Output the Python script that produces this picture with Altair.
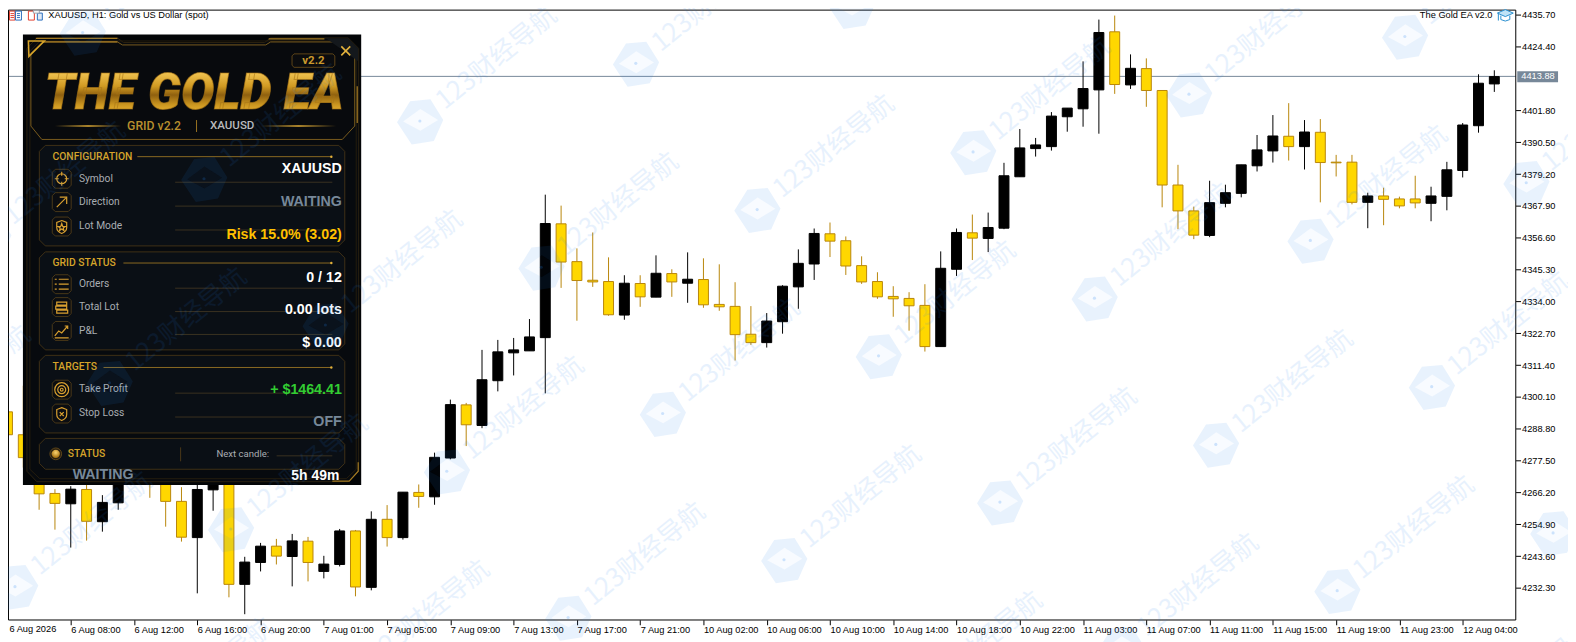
import altair as alt
import pandas as pd
import json

opens = [4294.82,4286.70,4278.68,4265.86,4262.19,4267.27,4255.83,4262.54,4274.44,4279.74,4270.91,4263.04,4250.19,4267.13,4274.44,4233.59,4241.36,4247.15,4243.48,4248.91,4238.18,4240.65,4252.55,4232.53,4256.68,4250.19,4266.22,4264.66,4278.43,4297.29,4289.98,4305.87,4315.76,4316.46,4321.16,4361.55,4348.13,4341.53,4341.07,4329.17,4340.37,4335.53,4343.90,4340.47,4341.78,4332.95,4332.25,4322.36,4319.39,4326.81,4339.17,4347.29,4358.02,4355.55,4346.72,4341.07,4335.78,4335.07,4332.60,4317.98,4345.42,4358.37,4356.36,4360.00,4378.25,4388.25,4388.95,4399.55,4402.37,4409.08,4429.70,4410.85,4416.64,4408.87,4375.32,4366.14,4357.42,4368.83,4372.36,4382.14,4387.43,4392.63,4388.95,4394.04,4383.44,4383.44,4369.18,4371.44,4370.38,4370.38,4368.83,4371.30,4380.48,4396.37,4411.20]
highs = [4299.16,4304.10,4281.50,4267.38,4268.44,4270.21,4265.26,4277.27,4282.21,4283.27,4274.44,4268.09,4272.68,4277.97,4277.27,4243.37,4248.31,4249.73,4251.49,4250.43,4243.72,4253.26,4252.90,4259.51,4261.73,4266.32,4269.04,4280.34,4299.16,4297.99,4316.81,4320.35,4321.05,4327.76,4371.90,4368.01,4352.83,4358.48,4349.65,4343.30,4343.30,4350.36,4345.42,4351.42,4349.30,4347.18,4340.83,4332.35,4329.88,4339.77,4352.48,4359.89,4362.01,4357.07,4350.01,4344.36,4339.41,4337.29,4340.12,4351.77,4359.89,4364.84,4365.54,4383.20,4395.20,4392.03,4401.21,4402.62,4419.21,4434.04,4435.46,4421.69,4420.27,4408.87,4382.49,4367.66,4376.84,4375.43,4382.49,4393.08,4400.15,4404.38,4398.38,4398.73,4386.02,4386.02,4372.60,4374.37,4371.19,4378.61,4374.72,4383.55,4397.32,4414.62,4416.04]
lows = [4285.04,4275.04,4260.07,4253.01,4246.65,4249.13,4252.30,4260.07,4272.32,4264.31,4254.07,4248.77,4230.41,4259.72,4229.00,4223.00,4238.18,4240.65,4232.88,4234.65,4235.71,4239.95,4229.35,4231.47,4247.01,4249.48,4260.78,4261.84,4277.97,4282.67,4289.03,4302.09,4307.74,4316.46,4301.39,4338.81,4327.16,4339.17,4328.93,4327.51,4332.10,4335.53,4335.64,4333.52,4331.75,4330.69,4313.04,4318.58,4317.63,4322.57,4331.40,4341.64,4349.76,4343.40,4340.23,4334.93,4328.57,4323.63,4316.22,4317.98,4343.05,4348.70,4351.52,4359.65,4378.25,4385.42,4387.54,4394.25,4396.02,4393.54,4407.67,4409.43,4403.08,4367.41,4359.65,4356.12,4356.82,4367.41,4370.95,4380.13,4383.30,4384.01,4380.83,4369.18,4378.36,4368.47,4360.00,4361.06,4367.06,4367.06,4362.47,4366.35,4378.01,4393.90,4408.37]
closes = [4286.70,4278.57,4265.72,4262.33,4267.38,4255.98,4262.68,4274.44,4279.74,4270.91,4263.04,4250.33,4267.27,4274.44,4233.59,4241.50,4247.15,4243.62,4249.02,4241.36,4240.79,4252.55,4232.67,4256.68,4250.19,4266.32,4264.80,4278.68,4297.39,4290.23,4306.22,4316.11,4316.81,4321.41,4361.66,4347.99,4341.43,4340.93,4329.28,4340.47,4335.64,4344.00,4340.93,4341.89,4332.81,4332.10,4322.22,4319.39,4327.05,4339.41,4347.53,4358.13,4355.41,4346.58,4340.93,4335.64,4334.93,4332.46,4317.98,4345.77,4358.48,4356.47,4360.25,4378.61,4388.49,4389.55,4399.79,4402.62,4409.57,4429.45,4410.99,4416.74,4408.87,4375.32,4366.14,4357.53,4369.07,4372.60,4382.49,4387.79,4392.73,4388.95,4394.14,4383.30,4383.20,4369.18,4371.44,4370.24,4367.91,4368.97,4371.44,4380.73,4396.62,4411.45,4413.81]
price_ticks = [4435.70,4424.40,4401.80,4390.50,4379.20,4367.90,4356.60,4345.30,4334.00,4322.70,4311.40,4300.10,4288.80,4277.50,4266.20,4254.90,4243.60,4232.30]
time_labels = ["6 Aug 2026","6 Aug 08:00","6 Aug 12:00","6 Aug 16:00","6 Aug 20:00","7 Aug 01:00","7 Aug 05:00","7 Aug 09:00","7 Aug 13:00","7 Aug 17:00","7 Aug 21:00","10 Aug 02:00","10 Aug 06:00","10 Aug 10:00","10 Aug 14:00","10 Aug 18:00","10 Aug 22:00","11 Aug 03:00","11 Aug 07:00","11 Aug 11:00","11 Aug 15:00","11 Aug 19:00","11 Aug 23:00","12 Aug 04:00"]
current_price = 4413.88

W, H = 1576, 642
AXF = "Liberation Sans"
AXS = 9.3
GOLD = "#d6a42a"
UIF = "Roboto"
BOLD = "Liberation Sans"

df = pd.DataFrame({"i": range(len(opens)), "open": opens, "high": highs, "low": lows, "close": closes})
df["kind"] = ["up" if c >= o else "down" for o, c in zip(opens, closes)]

xscale = alt.Scale(domain=[-0.15625, 98.34375], zero=False, nice=False)
yscale = alt.Scale(domain=[4213.71, 4440.40], zero=False, nice=False)
fill_s = alt.Scale(domain=["up", "down"], range=["#000000", "#FFD700"])
edge_s = alt.Scale(domain=["up", "down"], range=["#000000", "#B8860B"])

axis_labels = [""] + time_labels[1:]
xaxis = alt.Axis(values=list(range(0, 95, 4)), orient="bottom", offset=-20.7, title=None, grid=False, domain=False,
                 tickSize=5, tickColor="black", labelColor="black", labelFont=AXF, labelFontSize=AXS,
                 labelAlign="left", labelPadding=1, labelOverlap=False, labelFlush=False, labelBound=False,
                 labelExpr=json.dumps(axis_labels) + "[round(datum.value/4)]")
yaxis = alt.Axis(values=price_ticks, orient="right", offset=-52.7, title=None, grid=False, domain=False, format=".2f",
                 tickSize=5, tickColor="black", labelColor="black", labelFont=AXF, labelFontSize=AXS,
                 labelPadding=1, labelOverlap=False, labelFlush=False, labelBound=False)

one = pd.DataFrame({"a": [0]})


def shape(path, fill=None, stroke=None, width=1.0, x=0, y=0, size=4, opacity=1.0):
    kw = {"shape": path, "size": size, "opacity": opacity, "filled": fill is not None}
    if fill is not None:
        kw["fill"] = fill
    if stroke is not None:
        kw["stroke"] = stroke
        kw["strokeWidth"] = width
    else:
        kw["strokeWidth"] = 0
    return alt.Chart(one).mark_point(**kw).encode(x=alt.value(x), y=alt.value(y))


def box(x0, y0, x1, y1, c=0):
    if c == 0:
        return f"M{x0},{y0}L{x1},{y0}L{x1},{y1}L{x0},{y1}Z"
    return (f"M{x0+c},{y0}L{x1-c},{y0}L{x1},{y0+c}L{x1},{y1-c}L{x1-c},{y1}"
            f"L{x0+c},{y1}L{x0},{y1-c}L{x0},{y0+c}Z")


def seg(x0, y0, x1, y1):
    return f"M{x0},{y0}L{x1},{y1}"


def text(s, x, y, font=UIF, size=10, color="white", align="left", weight="normal", baseline="middle", style="normal"):
    return alt.Chart(one).mark_text(text=s, font=font, fontSize=size, color=color, align=align, fontWeight=weight,
                                    baseline=baseline, fontStyle=style).encode(x=alt.value(x), y=alt.value(y))


def hfade(x0, x1, y, mid="#e0ac35", h=1.4):
    grad = alt.Gradient(gradient="linear", x1=0, x2=1, y1=0, y2=0, stops=[
        alt.GradientStop(color="#07090c", offset=0), alt.GradientStop(color=mid, offset=0.5),
        alt.GradientStop(color="#07090c", offset=1)])
    return alt.Chart(one).mark_rect(color=grad).encode(x=alt.value(x0), x2=alt.value(x1), y=alt.value(y - h / 2), y2=alt.value(y + h / 2))


layers = []

# candles
wicks = alt.Chart(df).mark_rule(strokeWidth=1).encode(
    x=alt.X("i:Q", scale=xscale, axis=xaxis),
    y=alt.Y("high:Q", scale=yscale, axis=yaxis), y2="low:Q",
    color=alt.Color("kind:N", scale=edge_s, legend=None))
bodies = alt.Chart(df).mark_bar(size=10, strokeWidth=1, orient="vertical").encode(
    x=alt.X("i:Q", scale=xscale, axis=xaxis),
    y=alt.Y("open:Q", scale=yscale, axis=yaxis), y2="close:Q",
    fill=alt.Fill("kind:N", scale=fill_s, legend=None),
    stroke=alt.Stroke("kind:N", scale=edge_s, legend=None))
price_line = alt.Chart(pd.DataFrame({"p": [current_price]})).mark_rule(color="#778899", strokeWidth=1).encode(
    y=alt.Y("p:Q", scale=yscale, axis=yaxis), x=alt.value(2.5), x2=alt.value(1523.5))
layers += [price_line, wicks, bodies]

# chart frame (left and top sit at the first pixels the page can show), price tag, caption
layers.append(shape(box(8.5, 8.5, 1523.5, 621.5), stroke="black", width=1))
layers.append(text(time_labels[0], 9.5, 631, font=AXF, size=AXS, color="black"))
layers.append(alt.Chart(one).mark_rect(color="#778899").encode(x=alt.value(1525), x2=alt.value(1566), y=alt.value(70), y2=alt.value(81)))
layers.append(alt.Chart(pd.DataFrame({"p": [current_price]})).mark_text(font=AXF, fontSize=AXS, color="white", align="left", baseline="middle").encode(
    text=alt.Text("p:Q", format=".2f"), x=alt.value(1529), y=alt.Y("p:Q", scale=yscale, axis=yaxis)))
layers.append(text("XAUUSD, H1:  Gold vs US Dollar (spot)", 48.5, 13.5, font=AXF, size=AXS, color="black"))
layers.append(text("The Gold EA v2.0", 1500, 13.5, font=AXF, size=AXS, color="black", align="right"))
# toolbar icons
layers.append(shape(box(9.5, 9.5, 15, 18.5) + seg(10.5, 12, 14, 12) + seg(10.5, 14, 14, 14) + seg(10.5, 16, 14, 16), stroke="#e2402f", width=1))
layers.append(shape(box(15.5, 9.5, 21.5, 18.5) + seg(17, 12, 20, 12) + seg(17, 14, 20, 14) + seg(17, 16, 20, 16), stroke="#2c6fbd", width=1))
layers.append(shape("M28.5,9.5L34.5,9.5L34.5,18.5L28.5,18.5Z", stroke="#e2402f", width=1))
layers.append(shape("M37.5,11.5L42.5,11.5L42.5,18.5L37.5,18.5Z", fill="#dfeaf6", stroke="#2c6fbd", width=1))
layers.append(shape("M33.5,9L39.5,9L39.5,11.5L33.5,11.5Z", fill="white", stroke="#9aa3ad", width=1))
# graduation cap
layers.append(shape("M1505,11.5L1513,8L1521,11.5L1513,15Z", fill="#bfe3f7", stroke="#2a8fd0", width=1))
layers.append(shape("M1508.5,14L1508.5,18Q1513,21 1517.5,18L1517.5,14M1506,12L1506,19", stroke="#2a8fd0", width=1))

# panel shell
layers.append(alt.Chart(one).mark_rect(color="#030507").encode(x=alt.value(23), x2=alt.value(363), y=alt.value(33), y2=alt.value(485.7)))
layers.append(shape("M27,47L37,36.5L118,36.5L124,41L266,41L272,36.5L350,36.5L360.5,47L360.5,472L350,482.5L37,482.5L27,472Z", fill="#070a0e", stroke="#2c2210", width=1))
layers.append(shape("M30,50L40,39.5L350,39.5L358,48L358,470L348,479.5L40,479.5L30,470Z", stroke="#241c0d", width=1))
layers.append(shape("M31,52L43,40.5L118,40.5L123,43.5L267,43.5L272,40.5L340,40.5L356.5,52L356.5,125L344,138.5L42,138.5L31,125Z", fill="#080a0d", stroke="#7a5c1e", width=1))
layers.append(shape("M328,37L350,37L360,47L360,60Z", fill="#14181c"))
layers.append(shape("M36,37L118,37M270,37.5L326,37.5M334,482L351,482L360,472L360,463M359,85L359,122M42,40.5L118,40.5", stroke="#a47a22", width=1.2))
layers.append(shape("M28.5,39.5L44.5,39.5L29,55Z", stroke=GOLD, width=1.6))
layers.append(shape("M343,45L352,54M352,45L343,54", stroke="#e3b23c", width=1.6))

# badge
layers.append(shape(box(293.5, 52.5, 336.5, 66, 2), fill="#0b0c0e", stroke="#5d4518", width=1))
layers.append(text("v2.2", 315, 59.6, size=11.5, color="#c9982c", align="center", weight=700))

# title
title_grad = alt.Gradient(gradient="linear", x1=0, x2=0, y1=0, y2=1, stops=[
    alt.GradientStop(color="#f7cb5a", offset=0.12), alt.GradientStop(color="#d09a22", offset=0.4),
    alt.GradientStop(color="#8f600f", offset=0.55), alt.GradientStop(color="#cc9720", offset=0.72),
    alt.GradientStop(color="#f4bd3e", offset=0.9)])
layers.append(alt.Chart(one).mark_text(text="THE GOLD EA", font=UIF, fontSize=50, fontWeight=900, fontStyle="italic", align="center",
                                       baseline="alphabetic", fill=title_grad, stroke="#a87516", strokeWidth=1, strokeOpacity=0.6).encode(x=alt.value(195), y=alt.value(108)))
layers.append(hfade(55, 122, 125))
layers.append(hfade(262, 338, 125))
layers.append(text("GRID v2.2", 127.7, 125, size=12.3, color="#b98f2e", weight=500))
layers.append(alt.Chart(one).mark_rule(color="#9a7422").encode(x=alt.value(197.5), y=alt.value(119), y2=alt.value(131)))
layers.append(text("XAUUSD", 211, 125, size=11.6, color="#b9bbbd", weight=500))

# sections
sections = [(39.5, 144.5, 346.5, 245.5), (39.5, 251.5, 346.5, 350), (39.5, 355.5, 346.5, 433.5), (39.5, 439, 346.5, 470)]
for s in sections:
    layers.append(shape(box(*s, c=6), fill="#0a0f15", stroke="#3f3016", width=1))

heads = [("CONFIGURATION", 155.8, 138), ("GRID STATUS", 262.7, 124), ("TARGETS", 367.7, 104)]
for name, y, lx in heads:
    layers.append(text(name, 52.7, y, size=10.4, color=GOLD, weight=500))
    layers.append(alt.Chart(one).mark_rule(color="#8a6a22", strokeWidth=1).encode(x=alt.value(lx), x2=alt.value(333), y=alt.value(y), y2=alt.value(y)))
    layers.append(alt.Chart(one).mark_circle(size=6, opacity=1, color="#e2b03a").encode(x=alt.value(333), y=alt.value(y)))

rows = [
    ("Symbol", 178, 181.5, "XAUUSD", 168.7, "white"),
    ("Direction", 201.7, 205.5, "WAITING", 201.5, "#778899"),
    ("Lot Mode", 226, 229.5, "Risk 15.0% (3.02)", 234.7, "#FFC000"),
    ("Orders", 284, 288, "0 / 12", 278, "white"),
    ("Total Lot", 307, 311.5, "0.00 lots", 310, "white"),
    ("P&L", 331, 334.5, "$ 0.00", 343, "white"),
    ("Take Profit", 389.7, 393.5, "+ $1464.41", 390, "#32CD32"),
    ("Stop Loss", 413.7, 417.5, "OFF", 422.7, "#778899"),
]
for name, ty, ly, val, vy, col in rows:
    layers.append(alt.Chart(one).mark_rule(color="#3a3120", strokeWidth=1).encode(x=alt.value(176), x2=alt.value(334), y=alt.value(ly), y2=alt.value(ly)))
    layers.append(text(name, 79.3, ty, size=10.3, color="#a9adb2"))
    layers.append(text(val, 343.5, vy, font=BOLD, size=14.3, color=col, align="right", weight="bold"))

# row icons
icon_y = [178, 201.5, 226, 284, 307, 331, 390, 414]
for y in icon_y:
    layers.append(shape(box(52.5, y - 9.5, 71.5, y + 9.5, c=3), fill="#0b0d11", stroke="#4a3818", width=1))
GL = "#d9a030"
shield = "M0,-6L5,-4L5,1Q5,5 0,7Q-5,5 -5,1L-5,-4Z"
gly = [
    ("M0,-5A5,5 0 1 1 0,5A5,5 0 1 1 0,-5ZM0,-7L0,-3M0,3L0,7M-7,0L-3,0M3,0L7,0", 178),
    ("M-5,5L4,-4M-2,-5L5,-5L5,2", 201.5),
    (shield + "M0,-3L1,0L3.5,0L1.5,1.5L2.2,4L0,2.5L-2.2,4L-1.5,1.5L-3.5,0L-1,0Z", 226),
    ("M-3,-5L7,-5M-3,0L7,0M-3,5L7,5M-7,-5L-5,-5M-7,0L-5,0M-7,5L-5,5", 284),
    ("M-5,-5L5,-5L5,-2L-5,-2ZM-6,-1L5,-1L5,2L-6,2ZM-5,3L6,3L6,6L-5,6Z", 307),
    ("M-7,5L-3,0L0,2L6,-5M3,-5L6,-5L6,-2M-7,7L7,7", 331),
    ("M0,-7A7,7 0 1 1 0,7A7,7 0 1 1 0,-7ZM0,-4A4,4 0 1 1 0,4A4,4 0 1 1 0,-4ZM0,-1.4A1.4,1.4 0 1 1 0,1.4A1.4,1.4 0 1 1 0,-1.4Z", 390),
    (shield + "M-2,-1.5L2,2.5M2,-1.5L-2,2.5", 414),
]
for p, y in gly:
    layers.append(shape(p, stroke=GL, width=1.2, x=62, y=y))

# status strip
layers.append(alt.Chart(one).mark_circle(size=140, opacity=1, color="#2a2010", stroke="#5d4518", strokeWidth=1).encode(x=alt.value(56), y=alt.value(454.5)))
dot_grad = alt.Gradient(gradient="radial", x1=0.5, y1=0.35, x2=0.5, y2=0.35, r1=0, r2=0.6, stops=[
    alt.GradientStop(color="#ffd873", offset=0), alt.GradientStop(color="#a4700f", offset=1)])
layers.append(alt.Chart(one).mark_circle(size=70, opacity=1, fill=dot_grad).encode(x=alt.value(56), y=alt.value(454.5)))
layers.append(text("STATUS", 68, 454.7, size=10.4, color=GOLD, weight=500))
layers.append(alt.Chart(one).mark_rule(color="#4a3818").encode(x=alt.value(181.5), y=alt.value(448), y2=alt.value(462)))
layers.append(text("Next candle:", 217.5, 454.7, size=9.6, color="#a9adb2"))
layers.append(alt.Chart(one).mark_rule(color="#3a3120").encode(x=alt.value(278), x2=alt.value(334), y=alt.value(456.5), y2=alt.value(456.5)))
layers.append(text("WAITING", 73, 476, font=BOLD, size=14.3, color="#778899", weight="bold"))
layers.append(text("5h 49m", 341, 476.5, font=BOLD, size=14, color="white", align="right", weight="bold"))

# watermark tiling
spots = []
for r in range(-3, 6):
    for c in range(-3, 12):
        cx = 1412 + 122 * r - 217 * c
        cy = 35 + 147 * r + 58 * c
        if -190 < cx < W + 40 and -40 < cy < H + 130:
            spots.append({"cx": cx, "cy": cy, "tx": cx + 20, "ty": cy - 17, "label": "123财经导航"})
wm = pd.DataFrame(spots)
WM_BLUE = "#2080f0"
hexa = "M-.98,.05L-.42,-.85L.45,-.93L1,-.05L.6,.85L-.35,1ZM-.72,.02L.02,.42L.78,-.04L.02,-.52Z"
rhomb = "M-.72,.02L.02,-.52L.78,-.04L.02,.42Z"
cx_enc = alt.X("cx:Q", scale=None, axis=None)
cy_enc = alt.Y("cy:Q", scale=None, axis=None)
layers.append(alt.Chart(wm).mark_point(shape=hexa, size=2200, filled=True, fill=WM_BLUE, opacity=0.1, strokeWidth=0).encode(x=cx_enc, y=cy_enc))
layers.append(alt.Chart(wm).mark_point(shape=rhomb, size=2200, filled=True, fill=WM_BLUE, opacity=0.03, strokeWidth=0).encode(x=cx_enc, y=cy_enc))
layers.append(alt.Chart(wm).mark_circle(size=10, color=WM_BLUE, opacity=0.2).encode(x=cx_enc, y=cy_enc))
layers.append(alt.Chart(wm).mark_text(font="Noto Sans CJK SC", fontSize=26, angle=321, align="left", baseline="middle", color=WM_BLUE, opacity=0.1).encode(
    x=alt.X("tx:Q", scale=None, axis=None), y=alt.Y("ty:Q", scale=None, axis=None), text="label:N"))

chart = alt.layer(*layers).properties(
    width=W, height=H, padding={"left": -8, "top": -8, "right": 0, "bottom": 0}, background="white",
    autosize=alt.AutoSizeParams(type="none"),
).configure_view(stroke=None)

chart.save("out.html", embed_options={"renderer": "svg", "actions": False})
